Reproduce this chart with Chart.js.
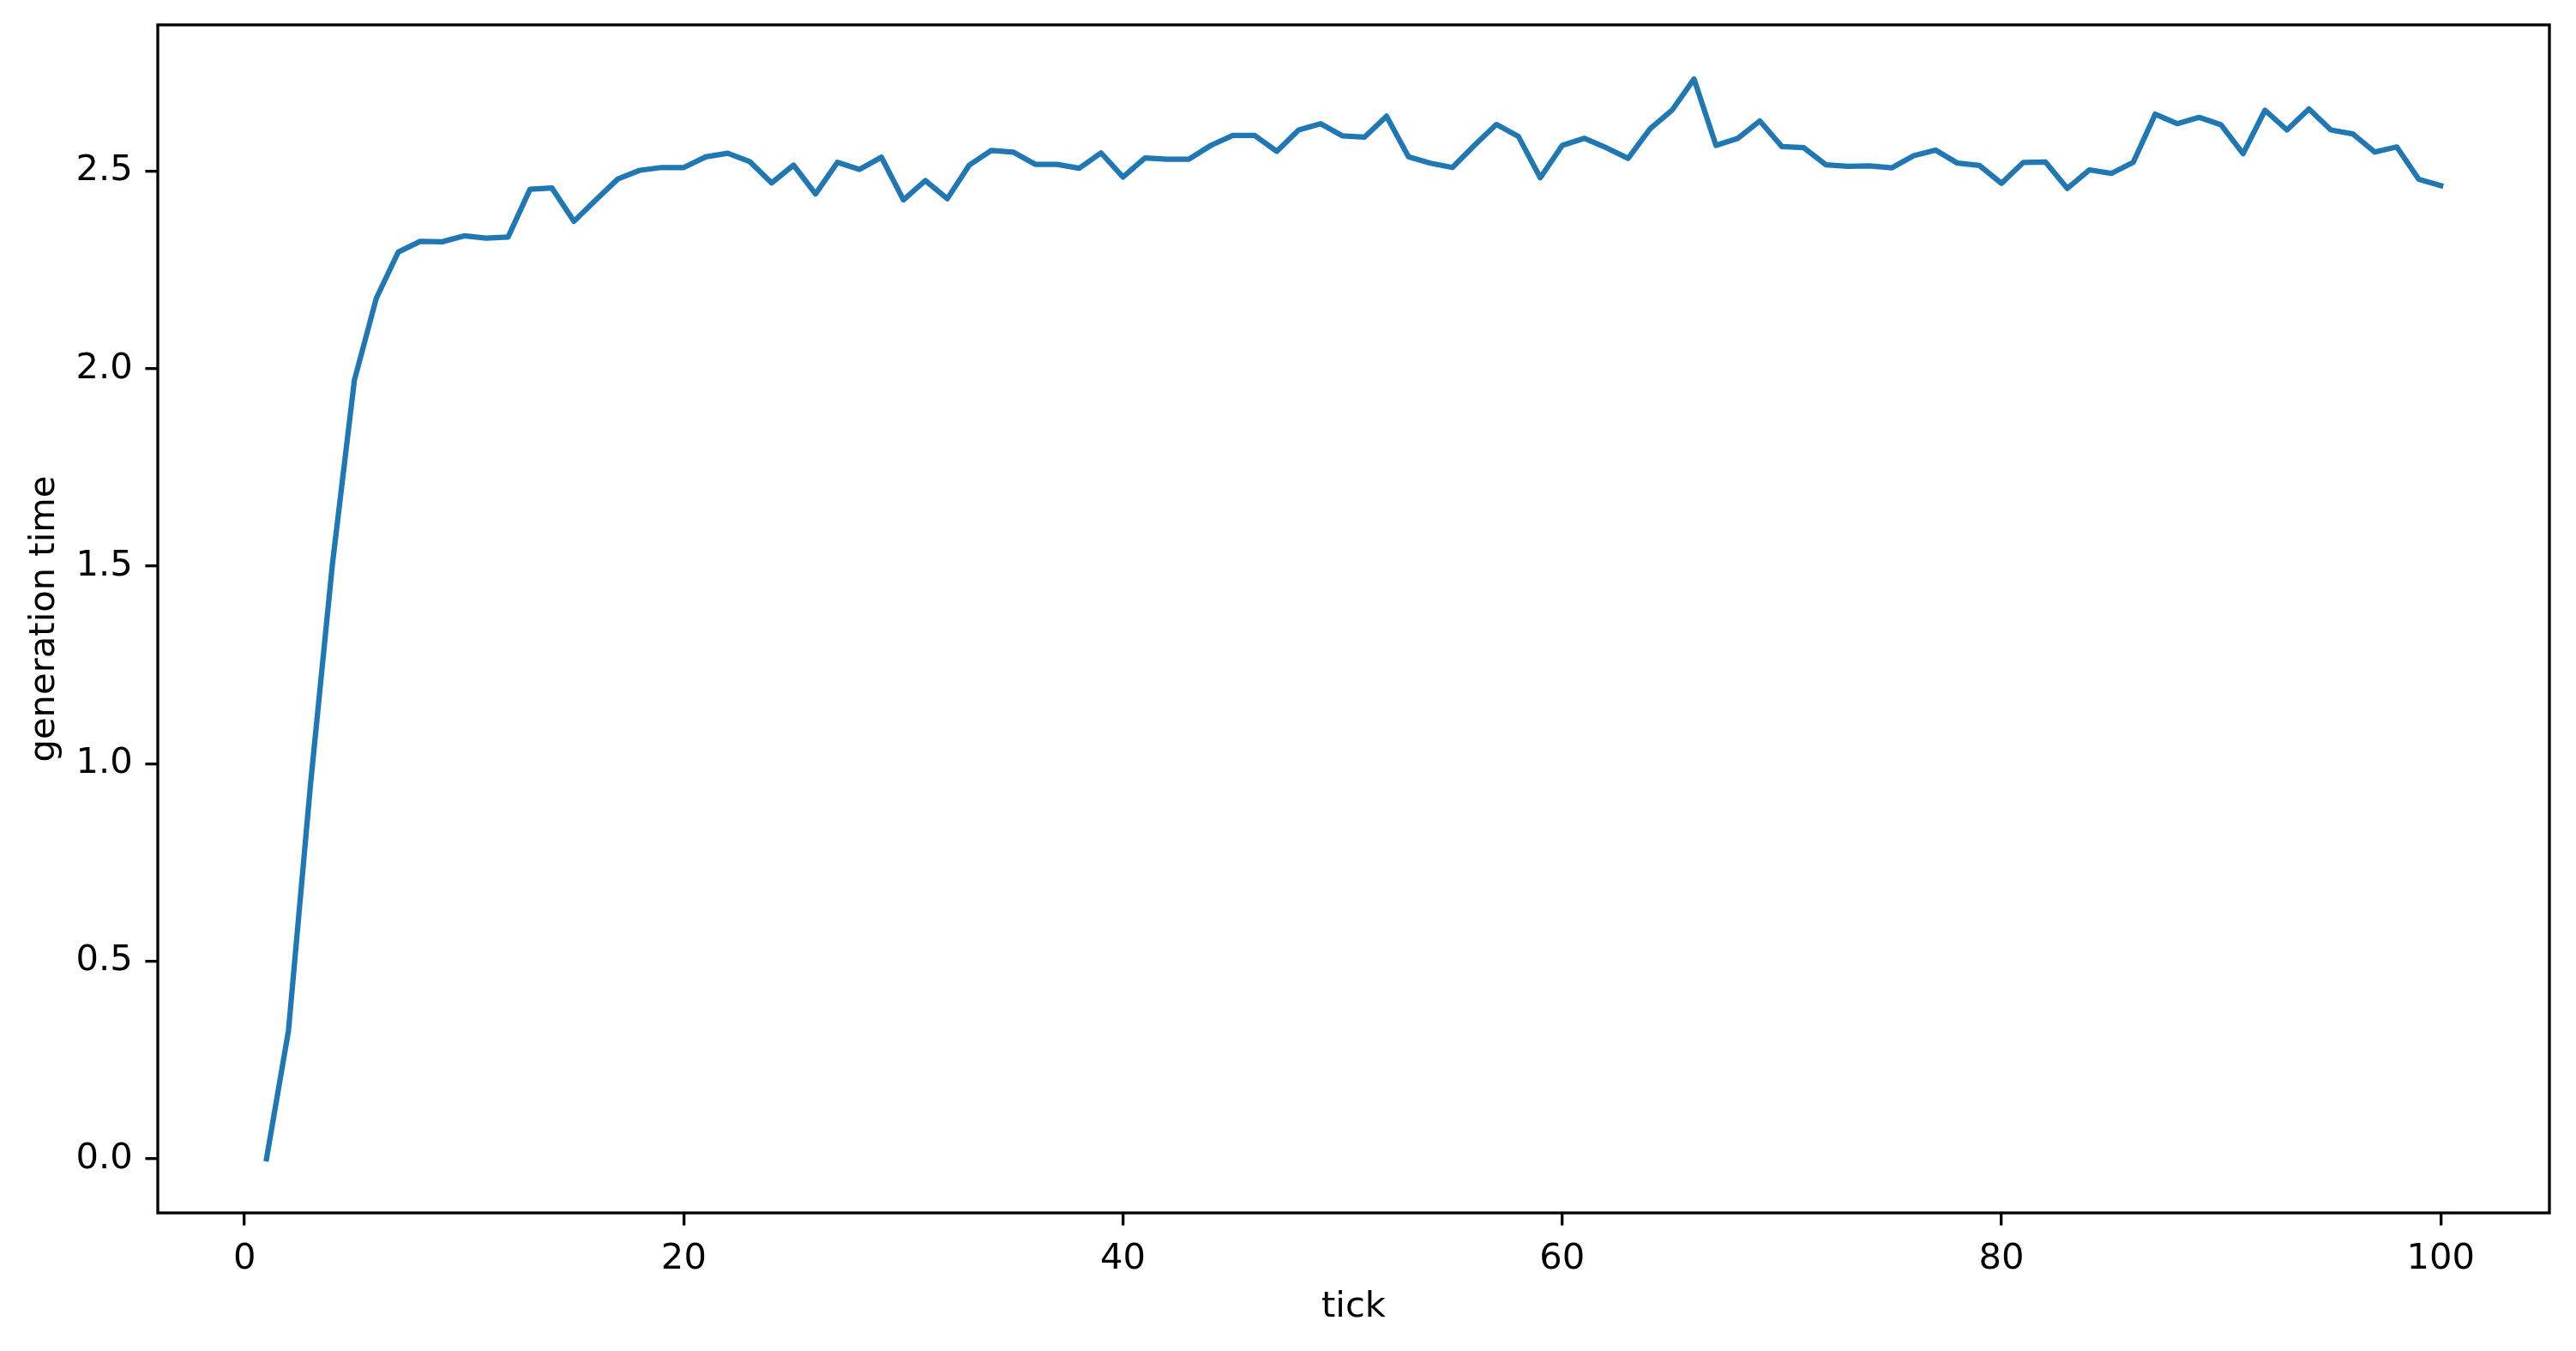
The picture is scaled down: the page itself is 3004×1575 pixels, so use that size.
<!DOCTYPE html>
<html lang="en"><head><meta charset="UTF-8">
<title>generation time</title>
<script src="https://cdn.jsdelivr.net/npm/chart.js@4/dist/chart.umd.min.js"></script>
<style>
*{margin:0;padding:0;box-sizing:border-box}
body{background:#fff;width:3004px;height:1575px;overflow:hidden}
</style></head><body>
<canvas id="c" width="3004" height="1575"></canvas>
<script>
// data
const ticks = [1,2,3,4,5,6,7,8,9,10,11,12,13,14,15,16,17,18,19,20,
  21,22,23,24,25,26,27,28,29,30,31,32,33,34,35,36,37,38,39,40,
  41,42,43,44,45,46,47,48,49,50,51,52,53,54,55,56,57,58,59,60,
  61,62,63,64,65,66,67,68,69,70,71,72,73,74,75,76,77,78,79,80,
  81,82,83,84,85,86,87,88,89,90,91,92,93,94,95,96,97,98,99,100];
const genTime = [0.000,0.324,0.945,1.504,1.970,2.178,2.295,2.322,2.321,2.336,
  2.330,2.333,2.454,2.457,2.373,2.427,2.480,2.502,2.509,2.509,
  2.536,2.545,2.524,2.470,2.515,2.442,2.522,2.504,2.535,2.427,
  2.476,2.430,2.515,2.552,2.548,2.517,2.517,2.507,2.546,2.485,
  2.533,2.530,2.530,2.565,2.590,2.590,2.550,2.604,2.620,2.589,
  2.586,2.639,2.536,2.520,2.509,2.565,2.618,2.588,2.483,2.565,
  2.583,2.559,2.532,2.607,2.654,2.733,2.565,2.583,2.627,2.562,
  2.559,2.516,2.512,2.513,2.508,2.539,2.553,2.520,2.514,2.469,
  2.522,2.523,2.456,2.503,2.494,2.522,2.644,2.620,2.636,2.617,
  2.544,2.654,2.604,2.657,2.604,2.594,2.548,2.561,2.479,2.463];
const xTicks = [0,20,40,60,80,100];
const yTicks = [0,0.5,1,1.5,2,2.5];
const xTitle = 'tick';
const yTitle = 'generation time';

const PT = 300/72; // matplotlib points -> px at 300 dpi
const font = {family:'"DejaVu Sans", sans-serif', size:10*PT, lineHeight:1.2};

// axes frame (all four spines)
const frame = {
  id:'frame',
  afterDatasetsDraw(chart){
    const {ctx, chartArea:a} = chart;
    ctx.save();
    ctx.strokeStyle = '#000';
    ctx.lineWidth = 0.8*PT;
    ctx.strokeRect(a.left, a.top, a.right-a.left, a.bottom-a.top);
    ctx.restore();
  }
};

const grid = {display:true, drawOnChartArea:false, drawTicks:true, tickLength:3.5*PT,
  tickColor:'#000', tickWidth:0.8*PT, color:'#000', lineWidth:0.8*PT};

new Chart(document.getElementById('c'), {
  type:'line',
  data:{datasets:[{
    data: ticks.map((t,i)=>({x:t, y:genTime[i]})),
    borderColor:'#1f77b4', borderWidth:1.5*PT, pointRadius:0, tension:0,
    borderJoinStyle:'round', borderCapStyle:'square', fill:false
  }]},
  options:{
    responsive:false, animation:false, devicePixelRatio:1,
    layout:{padding:{left:0, right:31, top:29, bottom:0}},
    plugins:{legend:{display:false}, tooltip:{enabled:false}},
    scales:{
      x:{type:'linear', min:-3.95, max:104.95,
        grid, border:{display:false},
        afterBuildTicks: s => { s.ticks = xTicks.map(v=>({value:v})); },
        afterFit: s => { s.height = 161; s.paddingLeft = 0; s.paddingRight = 0; },
        ticks:{color:'#000', font, padding:3.5*PT, maxRotation:0, callback: v => String(v)},
        title:{display:true, text:xTitle, color:'#000', font, padding:{top:0, bottom:26}}
      },
      y:{type:'linear', min:-0.137, max:2.87,
        grid, border:{display:false},
        afterBuildTicks: s => { s.ticks = yTicks.map(v=>({value:v})); },
        afterFit: s => { s.width = 184; s.paddingTop = 0; s.paddingBottom = 0; },
        ticks:{color:'#000', font, padding:3.5*PT, callback: v => Number(v).toFixed(1)},
        title:{display:true, text:yTitle, color:'#000', font, padding:{top:27, bottom:0}}
      }
    }
  },
  plugins:[frame]
});
</script>
</body></html>
